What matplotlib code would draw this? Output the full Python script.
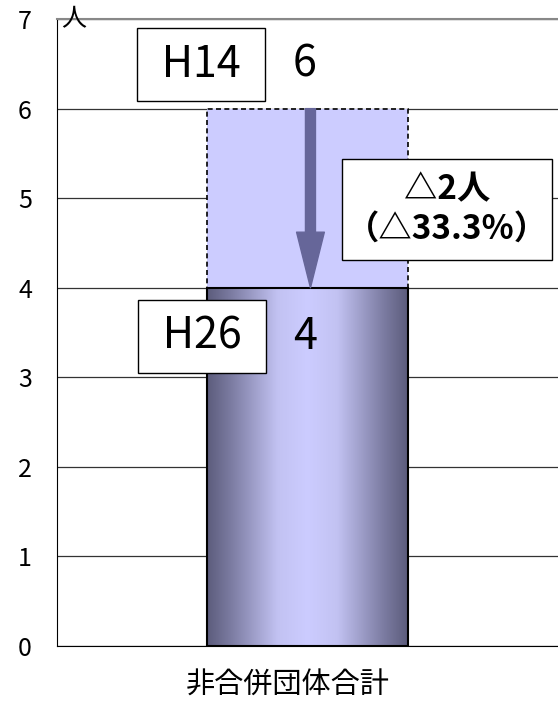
import numpy as np
import matplotlib
matplotlib.use("Agg")
import matplotlib.pyplot as plt
from matplotlib.colors import LinearSegmentedColormap
from matplotlib.transforms import ScaledTranslation
from matplotlib.offsetbox import AnnotationBbox, TextArea, VPacker, DrawingArea

plt.rcParams["font.family"] = ["Noto Sans CJK JP", "DejaVu Sans"]

categories = ["非合併団体合計"]
h14 = [6]
h26 = [4]
years = ["H14", "H26"]
unit = "人"
yticks = [0, 1, 2, 3, 4, 5, 6, 7]

diff = h26[0] - h14[0]
pct = diff / h14[0] * 100

fig = plt.figure(figsize=(5.58, 7.06), dpi=100)
ax = fig.add_axes([0.102, 0.085, 0.898, 0.888])

x = np.arange(len(categories))
w = 0.4

# H14 (behind, dashed outline)
ax.bar(x, h14, width=w, color="#ccccff", edgecolor="black",
       linestyle=(0, (3, 2)), linewidth=1.2, zorder=2)

# H26 with horizontal gradient
bars = ax.bar(x, h26, width=w, color="none", edgecolor="black",
              linewidth=1.5, zorder=4)
cmap = LinearSegmentedColormap.from_list("grad", [
    (0.0, "#5c5c7c"), (0.12, "#7c7ca2"), (0.35, "#c2c2f2"),
    (0.5, "#ccccff"), (0.65, "#c2c2f2"), (0.88, "#7c7ca2"), (1.0, "#5c5c7c")])
for b in bars:
    grad = np.linspace(0, 1, 256).reshape(1, -1)
    im = ax.imshow(grad, cmap=cmap, aspect="auto", zorder=3,
                   extent=(b.get_x(), b.get_x() + b.get_width(), 0, b.get_height()))
    im.set_clip_path(b)

# arrow from H14 down to H26
ax.annotate("", xy=(x[0] + 0.006, h26[0]), xytext=(x[0] + 0.006, h14[0]),
            arrowprops=dict(arrowstyle="simple,head_length=2.0,head_width=1.0,tail_width=0.36",
                            mutation_scale=20, color="#666699",
                            shrinkA=0, shrinkB=0), zorder=5)

box = dict(boxstyle="square,pad=0.34", facecolor="white", edgecolor="black", linewidth=1)
ax.text(-0.212, h14[0] + 0.49, f" {years[0]} ", fontsize=31, ha="center", va="center",
        bbox=box, zorder=6)
ax.text(x[0] - 0.005, h14[0] + 0.49, str(h14[0]), fontsize=31, ha="center",
        va="center", zorder=6)
ax.text(-0.21, h26[0] - 0.545, f" {years[1]} ", fontsize=31, ha="center", va="center",
        bbox=box, zorder=6)
ax.text(x[0] - 0.004, h26[0] - 0.545, str(h26[0]), fontsize=31, ha="center",
        va="center", zorder=6)

# change label box
tp = dict(fontsize=24, fontweight="bold")
packed = VPacker(children=[DrawingArea(1, 2),
                           TextArea(f"△{abs(diff)}{unit}", textprops=tp),
                           TextArea(f"（△{abs(pct):.1f}%）", textprops=tp),
                           DrawingArea(1, 2)],
                 align="center", pad=0, sep=5)
ab = AnnotationBbox(packed, (0.278, 4.873), frameon=True, pad=0.7,
                    bboxprops=dict(boxstyle="square", facecolor="white",
                                   edgecolor="black", linewidth=1),
                    zorder=6)
ax.add_artist(ab)

ax.text(0.008, 1.0, unit, transform=ax.transAxes, fontsize=18,
        ha="left", va="center")

ax.set_xlim(-0.5, 0.5)
ax.set_ylim(0, 7)
ax.set_yticks(yticks)
ax.set_xticks(x, categories)
ax.tick_params(axis="y", length=0, labelsize=18, pad=18)
ax.tick_params(axis="x", length=0, labelsize=21, pad=18)
for lbl in ax.get_xticklabels():
    lbl.set_transform(lbl.get_transform() + ScaledTranslation(-0.2, 0, fig.dpi_scale_trans))
ax.yaxis.grid(True, color="#333333", linewidth=0.9)
ax.set_axisbelow(True)
ax.spines["right"].set_visible(False)
ax.spines["top"].set_color("#888888")
ax.spines["top"].set_linewidth(1.5)
ax.spines["left"].set_color("black")
ax.spines["bottom"].set_color("black")

fig.savefig("out.png", dpi=100)
